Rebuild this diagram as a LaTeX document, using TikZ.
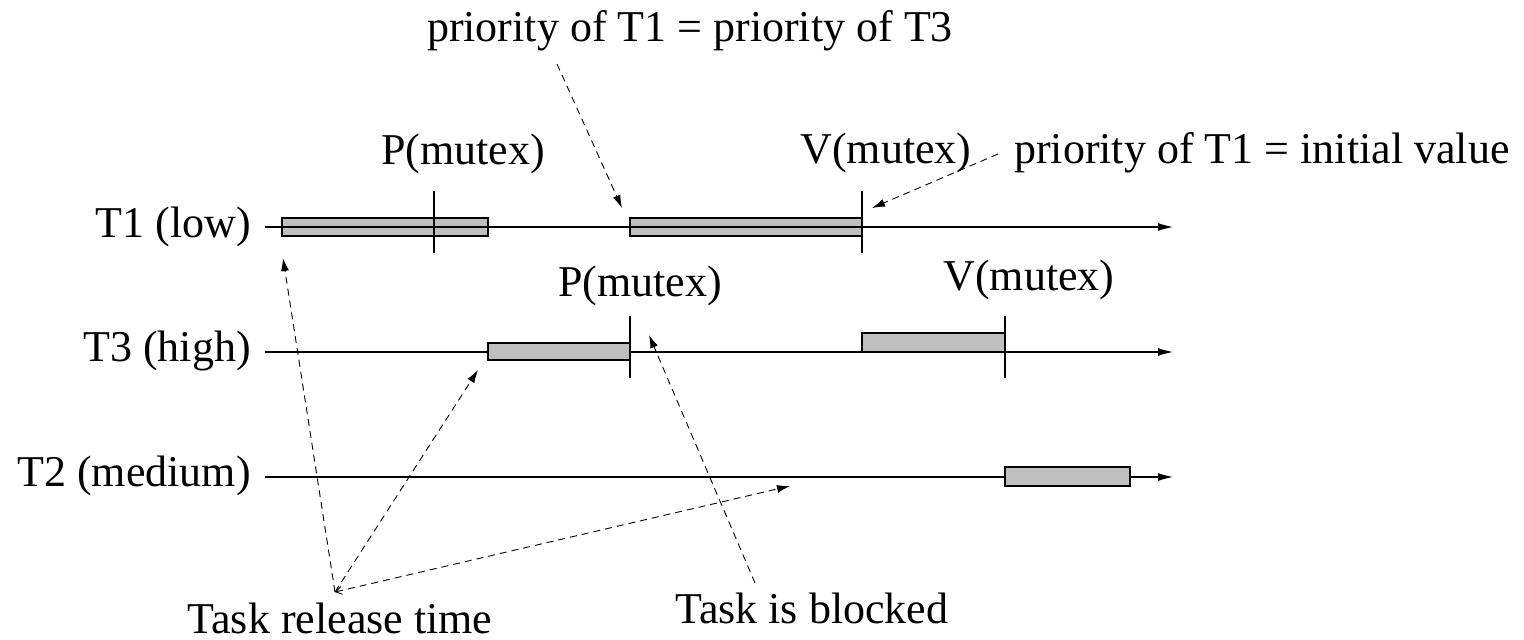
\documentclass[tikz,border=0pt]{standalone}
\usepackage{fontspec}
\setmainfont{Liberation Serif}
\usetikzlibrary{arrows.meta}
\begin{document}
\begin{tikzpicture}[x=1pt,y=-1pt,
  lbl/.style={font=\fontsize{44}{50}\selectfont, inner sep=0pt},
  axis/.style={line width=1.2pt, -{Latex[length=15pt,width=8pt]}},
  tick/.style={line width=2pt},
  runbox/.style={draw, line width=1.3pt, fill=black!25, inner sep=0pt, outer sep=0pt},
  note/.style={dashed, dash pattern=on 7pt off 5pt, line width=0.9pt, -{Latex[length=13pt,width=8pt]}}
]
\useasboundingbox (0,0) rectangle (1524,640);

% timeline ends
\coordinate (s1) at (265,227); \coordinate (e1) at (1173,227);
\coordinate (s3) at (265,352); \coordinate (e3) at (1173,352);
\coordinate (s2) at (265,477); \coordinate (e2) at (1173,477);

% T3 and T2 lines (boxes drawn over them)
\draw[axis] (s3) -- (e3);
\draw[axis] (s2) -- (e2);

% T1 boxes
\node[runbox, minimum width=206pt, minimum height=18pt] (b1a) at (385,227) {};
\node[runbox, minimum width=232pt, minimum height=18pt] (b1b) at (746,227) {};
% T1 line on top of its boxes
\draw[axis] (s1) -- (e1);

% T3 boxes
\node[runbox, minimum width=142pt, minimum height=17pt] (b3a) at (559,351.5) {};
\node[runbox, minimum width=143pt, minimum height=19pt] (b3b) at (933.5,342.5) {};
% T2 box
\node[runbox, minimum width=125pt, minimum height=19pt] (b2a) at (1067.5,476.5) {};

% ticks
\coordinate (k1t) at (434,191); \coordinate (k1b) at (434,253);
\coordinate (k2t) at (862,191); \coordinate (k2b) at (862,253);
\coordinate (k3t) at (630,316); \coordinate (k3b) at (630,378);
\coordinate (k4t) at (1005,316); \coordinate (k4b) at (1005,378);
\draw[tick] (k1t) -- (k1b);
\draw[tick] (k2t) -- (k2b);
\draw[tick] (k3t) -- (k3b);
\draw[tick] (k4t) -- (k4b);

% task labels
\node[lbl, anchor=base east] (t1) at (251,237) {T1 (low)};
\node[lbl, anchor=base east] (t3) at (251,361) {T3 (high)};
\node[lbl, anchor=base east] (t2) at (251,486) {T2 (medium)};

% semaphore labels
\node[lbl, anchor=base] (p1) at (463,164) {P(mutex)};
\node[lbl, anchor=base] (v1) at (886,163) {V(mutex)};
\node[lbl, anchor=base] (p3) at (640,296) {P(mutex)};
\node[lbl, anchor=base] (v3) at (1029,290) {V(mutex)};

% notes
\node[lbl, anchor=base] (top) at (690,41) {priority of T1 = priority of T3};
\node[lbl, anchor=base west] (init) at (1014,163) {priority of T1 = initial value};
\node[lbl, anchor=base] (rel) at (340,633) {Task release time};
\node[lbl, anchor=base west] (blk) at (675,623) {Task is blocked};

% note arrows
\coordinate (a1s) at (557,64);   \coordinate (a1e) at (622,208);
\coordinate (a2s) at (998,154);  \coordinate (a2e) at (872,208);
\coordinate (ro)  at (335,592);
\coordinate (r1e) at (283,258);
\coordinate (r2e) at (478,370);
\coordinate (r3e) at (790,486);
\coordinate (bls) at (755,583);  \coordinate (ble) at (649,335);

\draw[note] (a1s) -- (a1e);
\draw[note] (a2s) -- (a2e);
\draw[note] (ro) -- (r1e);
\draw[note] (ro) -- (r2e);
\draw[note, {Straight Barb[length=6pt,width=8pt,line width=0.9pt]}-{Latex[length=13pt,width=8pt]}] (ro) -- (r3e);
\draw[note] (bls) -- (ble);
\end{tikzpicture}
\end{document}
